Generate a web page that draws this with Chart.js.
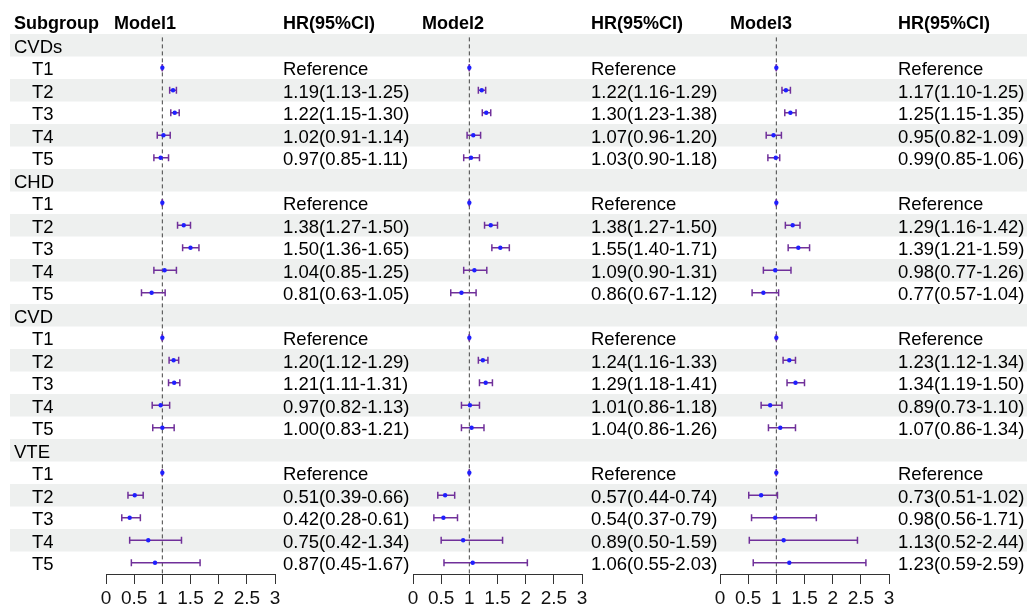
<!DOCTYPE html>
<html>
<head>
<meta charset="utf-8">
<script src="https://cdn.jsdelivr.net/npm/chart.js@4.4.1/dist/chart.umd.min.js"></script>
<style>
  html, body { margin: 0; padding: 0; background: #fff; }
  #wrap { position: relative; width: 1027px; height: 609px; }
  #wrap canvas { position: absolute; left: 0; top: 0; }
</style>
</head>
<body>
<div id="wrap">
  <canvas id="c1" width="1027" height="609"></canvas>
  <canvas id="c2" width="1027" height="609"></canvas>
  <canvas id="c3" width="1027" height="609"></canvas>
</div>
<script>
// Table rows
const groups = ['CVDs', 'CHD', 'CVD', 'VTE'];
const tiers = ['T1', 'T2', 'T3', 'T4', 'T5'];
const modelNames = ['Model1', 'Model2', 'Model3'];
const xTicks = [0, 0.5, 1, 1.5, 2, 2.5, 3];

// HR and 95% CI, per model, in row order (T1 = reference)
const hr1 = [1, 1.19, 1.22, 1.02, 0.97,  1, 1.38, 1.50, 1.04, 0.81,  1, 1.20, 1.21, 0.97, 1.00,  1, 0.51, 0.42, 0.75, 0.87];
const lo1 = [1, 1.13, 1.15, 0.91, 0.85,  1, 1.27, 1.36, 0.85, 0.63,  1, 1.12, 1.11, 0.82, 0.83,  1, 0.39, 0.28, 0.42, 0.45];
const hi1 = [1, 1.25, 1.30, 1.14, 1.11,  1, 1.50, 1.65, 1.25, 1.05,  1, 1.29, 1.31, 1.13, 1.21,  1, 0.66, 0.61, 1.34, 1.67];

const hr2 = [1, 1.22, 1.30, 1.07, 1.03,  1, 1.38, 1.55, 1.09, 0.86,  1, 1.24, 1.29, 1.01, 1.04,  1, 0.57, 0.54, 0.89, 1.06];
const lo2 = [1, 1.16, 1.23, 0.96, 0.90,  1, 1.27, 1.40, 0.90, 0.67,  1, 1.16, 1.18, 0.86, 0.86,  1, 0.44, 0.37, 0.50, 0.55];
const hi2 = [1, 1.29, 1.38, 1.20, 1.18,  1, 1.50, 1.71, 1.31, 1.12,  1, 1.33, 1.41, 1.18, 1.26,  1, 0.74, 0.79, 1.59, 2.03];

const hr3 = [1, 1.17, 1.25, 0.95, 0.99,  1, 1.29, 1.39, 0.98, 0.77,  1, 1.23, 1.34, 0.89, 1.07,  1, 0.73, 0.98, 1.13, 1.23];
const lo3 = [1, 1.10, 1.15, 0.82, 0.85,  1, 1.16, 1.21, 0.77, 0.57,  1, 1.12, 1.19, 0.73, 0.86,  1, 0.51, 0.56, 0.52, 0.59];
const hi3 = [1, 1.25, 1.35, 1.09, 1.06,  1, 1.42, 1.59, 1.26, 1.04,  1, 1.34, 1.50, 1.10, 1.34,  1, 1.02, 1.71, 2.44, 2.59];

const models = [
    { hr: hr1, lo: lo1, hi: hi1 },
    { hr: hr2, lo: lo2, hi: hi2 },
    { hr: hr3, lo: lo3, hi: hi3 }
];

const FONT = "'Liberation Sans', Arial, sans-serif";
const PURPLE = '#70309a';
const BLUE = '#1f1fff';
const BAND = '#eef0ef';
const nRows = groups.length * (tiers.length + 1);

// Panel placement on the page
const panelLeft = [106, 413, 720];
const panelWidth = 169;
const labelX = { group: 14, tier: 32 };
const modelX = [114, 422, 730];
const hrX = [283, 591, 898];

Chart.defaults.font.family = FONT;
Chart.defaults.color = '#111';

// row index on the y scale for a data index
const rowOf = (k) => Math.floor(k / tiers.length) * (tiers.length + 1) + 1 + (k % tiers.length);

const hrText = (m, k) => k % tiers.length === 0
    ? 'Reference'
    : `${m.hr[k].toFixed(2)}(${m.lo[k].toFixed(2)}-${m.hi[k].toFixed(2)})`;

// Gray bands + table text, drawn only on the bottom canvas
const tablePlugin = {
    id: 'table',
    beforeDraw(chart) {
        const { ctx, scales: { y } } = chart;
        ctx.save();
        ctx.fillStyle = '#fff';
        ctx.fillRect(0, 0, chart.width, chart.height);
        ctx.fillStyle = BAND;
        for (let r = 0; r < nRows; r += 2) {
            const top = y.getPixelForValue(r - 0.5);
            const bot = y.getPixelForValue(r + 0.5);
            ctx.fillRect(10, top, chart.width - 10, bot - top);
        }
        ctx.restore();
    },
    afterDraw(chart) {
        const { ctx, scales: { y } } = chart;
        ctx.save();
        ctx.fillStyle = '#000';
        ctx.textBaseline = 'alphabetic';

        // header
        const hy = y.getPixelForValue(-1) + 6.5;
        ctx.font = `bold 18px ${FONT}`;
        ctx.fillText('Subgroup', labelX.group, hy);
        modelNames.forEach((name, i) => {
            ctx.fillText(name, modelX[i], hy);
            ctx.fillText('HR(95%CI)', hrX[i], hy);
        });

        // rows
        ctx.font = `18.5px ${FONT}`;
        groups.forEach((g, gi) => {
            const gr = gi * (tiers.length + 1);
            ctx.fillText(g, labelX.group, y.getPixelForValue(gr) + 7.3);
            tiers.forEach((t, ti) => {
                const k = gi * tiers.length + ti;
                const ty = y.getPixelForValue(rowOf(k)) + 7.3;
                ctx.fillText(t, labelX.tier, ty);
                models.forEach((m, mi) => ctx.fillText(hrText(m, k), hrX[mi], ty));
            });
        });
        ctx.restore();
    }
};

const buildPanel = (canvasId, m, mi, withTable) => {
    const points = m.hr.map((v, k) => ({ x: v, y: rowOf(k) }));
    const caps = [];
    const ciLines = [];
    m.hr.forEach((v, k) => {
        const r = rowOf(k);
        caps.push({ x: m.lo[k], y: r }, { x: m.hi[k], y: r });
        ciLines.push({ x: m.lo[k], y: r }, { x: m.hi[k], y: r }, { x: NaN, y: NaN });
    });

    return new Chart(document.getElementById(canvasId), {
        type: 'scatter',
        data: {
            datasets: [
                {
                    data: points,
                    pointStyle: 'circle',
                    pointRadius: 2.2,
                    backgroundColor: BLUE,
                    borderWidth: 0
                },
                {
                    data: caps,
                    pointStyle: 'line',
                    pointRotation: 90,
                    pointRadius: 3.5,
                    borderColor: PURPLE,
                    borderWidth: 1.5
                },
                {
                    data: ciLines,
                    showLine: true,
                    spanGaps: false,
                    pointRadius: 0,
                    borderColor: PURPLE,
                    borderWidth: 1.5
                },
                {
                    data: [{ x: 1, y: -0.35 }, { x: 1, y: nRows - 0.5 }],
                    showLine: true,
                    pointRadius: 0,
                    borderColor: '#444',
                    borderWidth: 1,
                    borderDash: [4, 3]
                }
            ]
        },
        options: {
            responsive: false,
            animation: false,
            events: [],
            layout: {
                padding: {
                    top: 34,
                    bottom: 0,
                    left: panelLeft[mi],
                    right: 1027 - panelLeft[mi] - panelWidth
                }
            },
            scales: {
                x: {
                    type: 'linear',
                    min: 0,
                    max: 3,
                    afterBuildTicks: (s) => { s.ticks = xTicks.map(v => ({ value: v })); },
                    afterFit: (s) => { s.height = 35; },
                    ticks: {
                        color: '#111',
                        font: { size: 19 },
                        padding: 3,
                        maxRotation: 0,
                        autoSkip: false,
                        callback: (v) => String(v)
                    },
                    grid: {
                        drawOnChartArea: false,
                        drawTicks: true,
                        tickLength: 10,
                        color: '#333',
                        lineWidth: 1
                    },
                    border: { display: true, color: '#333', width: 1 }
                },
                y: {
                    type: 'linear',
                    min: -0.5,
                    max: nRows - 0.5,
                    reverse: true,
                    display: false
                }
            },
            plugins: {
                legend: { display: false },
                tooltip: { enabled: false }
            }
        },
        plugins: withTable ? [tablePlugin] : []
    });
};

buildPanel('c1', models[0], 0, true);
buildPanel('c2', models[1], 1, false);
buildPanel('c3', models[2], 2, false);
</script>
</body>
</html>
